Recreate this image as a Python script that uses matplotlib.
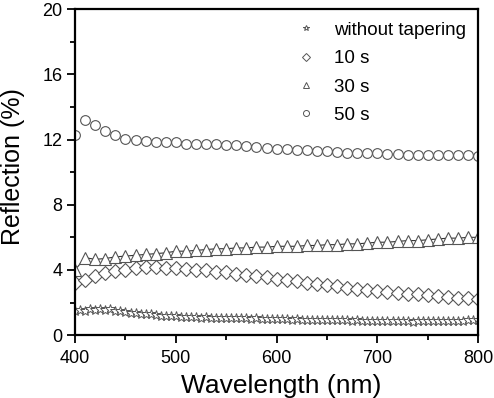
import numpy as np
import matplotlib
matplotlib.use("Agg")
import matplotlib.pyplot as plt
from matplotlib.lines import Line2D

plt.rcParams['font.family'] = ['Liberation Sans', 'DejaVu Sans']

wl10 = list(range(400, 801, 10))
wl5 = list(range(400, 801, 5))

r_without = [1.5, 1.55, 1.5, 1.6, 1.55, 1.6, 1.55, 1.6, 1.5, 1.45, 1.4, 1.35, 1.35, 1.3, 1.3, 1.3,
             1.25, 1.2, 1.2, 1.15, 1.15, 1.1, 1.12, 1.1, 1.1, 1.08, 1.1, 1.05, 1.08, 1.05, 1.05,
             1.03, 1.05, 1.02, 1.03, 1.0, 1.02, 1.0, 1.0, 0.98, 1.0, 0.97, 0.98, 0.95, 0.97, 0.95,
             0.95, 0.93, 0.95, 0.92, 0.93, 0.9, 0.92, 0.9, 0.9, 0.88, 0.9, 0.87, 0.88, 0.86, 0.88,
             0.85, 0.86, 0.84, 0.85, 0.84, 0.85, 0.83, 0.85, 0.84, 0.85, 0.85, 0.86, 0.85, 0.87,
             0.86, 0.88, 0.88, 0.9, 0.9, 0.95]

r_10s = [3.2, 3.4, 3.6, 3.8, 3.95, 4.0, 4.1, 4.15, 4.15, 4.1, 4.1, 4.05, 4.0, 4.0, 3.9, 3.85,
         3.75, 3.7, 3.6, 3.55, 3.45, 3.4, 3.3, 3.2, 3.15, 3.05, 3.0, 2.9, 2.8, 2.75, 2.7, 2.65,
         2.6, 2.55, 2.5, 2.45, 2.4, 2.35, 2.3, 2.25, 2.2]

r_30s = [4.0, 4.75, 4.65, 4.7, 4.8, 4.85, 4.9, 4.95, 5.0, 5.05, 5.15, 5.15, 5.2, 5.25, 5.3, 5.3,
         5.35, 5.35, 5.4, 5.4, 5.45, 5.45, 5.45, 5.5, 5.5, 5.55, 5.55, 5.6, 5.6, 5.65, 5.7, 5.7,
         5.75, 5.8, 5.8, 5.85, 5.9, 5.95, 5.95, 6.0, 6.0]

r_50s = [12.25, 13.2, 12.9, 12.5, 12.25, 12.05, 12.0, 11.9, 11.85, 11.85, 11.85, 11.75, 11.75,
         11.7, 11.7, 11.65, 11.65, 11.6, 11.55, 11.5, 11.45, 11.4, 11.35, 11.35, 11.3, 11.3,
         11.25, 11.2, 11.2, 11.15, 11.15, 11.1, 11.1, 11.05, 11.05, 11.05, 11.05, 11.05, 11.05,
         11.05, 11.0]

labels = ['without tapering', '10 s', '30 s', '50 s']
x_ticks = [400, 500, 600, 700, 800]
y_ticks = [0, 4, 8, 12, 16, 20]

fig = plt.figure(figsize=(4.94, 3.98), dpi=100)
ax = fig.add_axes([0.152, 0.158, 0.816, 0.819])

line_c = '#333333'
mk_c = '#555555'
ax.plot(wl5, r_without, color=line_c, lw=0.8, marker='*', ms=7, mfc='white', mec=mk_c, mew=0.7,
        label=labels[0])
ax.plot(wl10, r_10s, color=line_c, lw=0.8, marker='D', ms=7, mfc='white', mec=mk_c, mew=0.8,
        label=labels[1])
ax.plot(wl10, r_30s, color=line_c, lw=0.8, marker='^', ms=8, mfc='white', mec=mk_c, mew=0.8,
        label=labels[2])
ax.plot(wl10, r_50s, color=line_c, lw=0.0, marker='o', ms=7, mfc='white', mec=mk_c, mew=0.8,
        label=labels[3])

ax.set_xlim(400, 800)
ax.set_ylim(0, 20)
ax.set_xticks(x_ticks)
ax.set_xticks([450, 550, 650, 750], minor=True)
ax.set_yticks(y_ticks)
ax.set_yticks([2, 6, 10, 14, 18], minor=True)
ax.tick_params(which='major', direction='out', length=6, width=1.3, labelsize=13)
ax.tick_params(axis='x', which='major', pad=5)
ax.tick_params(axis='y', which='major', pad=3)
ax.tick_params(which='minor', direction='out', length=3.5, width=1.3)
for s in ax.spines.values():
    s.set_linewidth(1.6)

ax.set_xlabel('Wavelength (nm)', fontsize=19)
ax.xaxis.set_label_coords(0.511, -0.12)
ax.set_ylabel('Reflection (%)', fontsize=18)
ax.yaxis.set_label_coords(-0.124, 0.518)

handles, labs = ax.get_legend_handles_labels()
hs = [Line2D([], [], ls='none', marker=h.get_marker(), ms=h.get_markersize() * 0.62, mfc='white',
             mec=mk_c, mew=0.7) for h in handles]
leg = ax.legend(hs, labs, loc='upper right', frameon=False, fontsize=13.5,
                handlelength=1.0, handletextpad=1.0, labelspacing=0.6,
                borderaxespad=0.1, bbox_to_anchor=(0.994, 0.99))

fig.savefig('out.png', dpi=100)
